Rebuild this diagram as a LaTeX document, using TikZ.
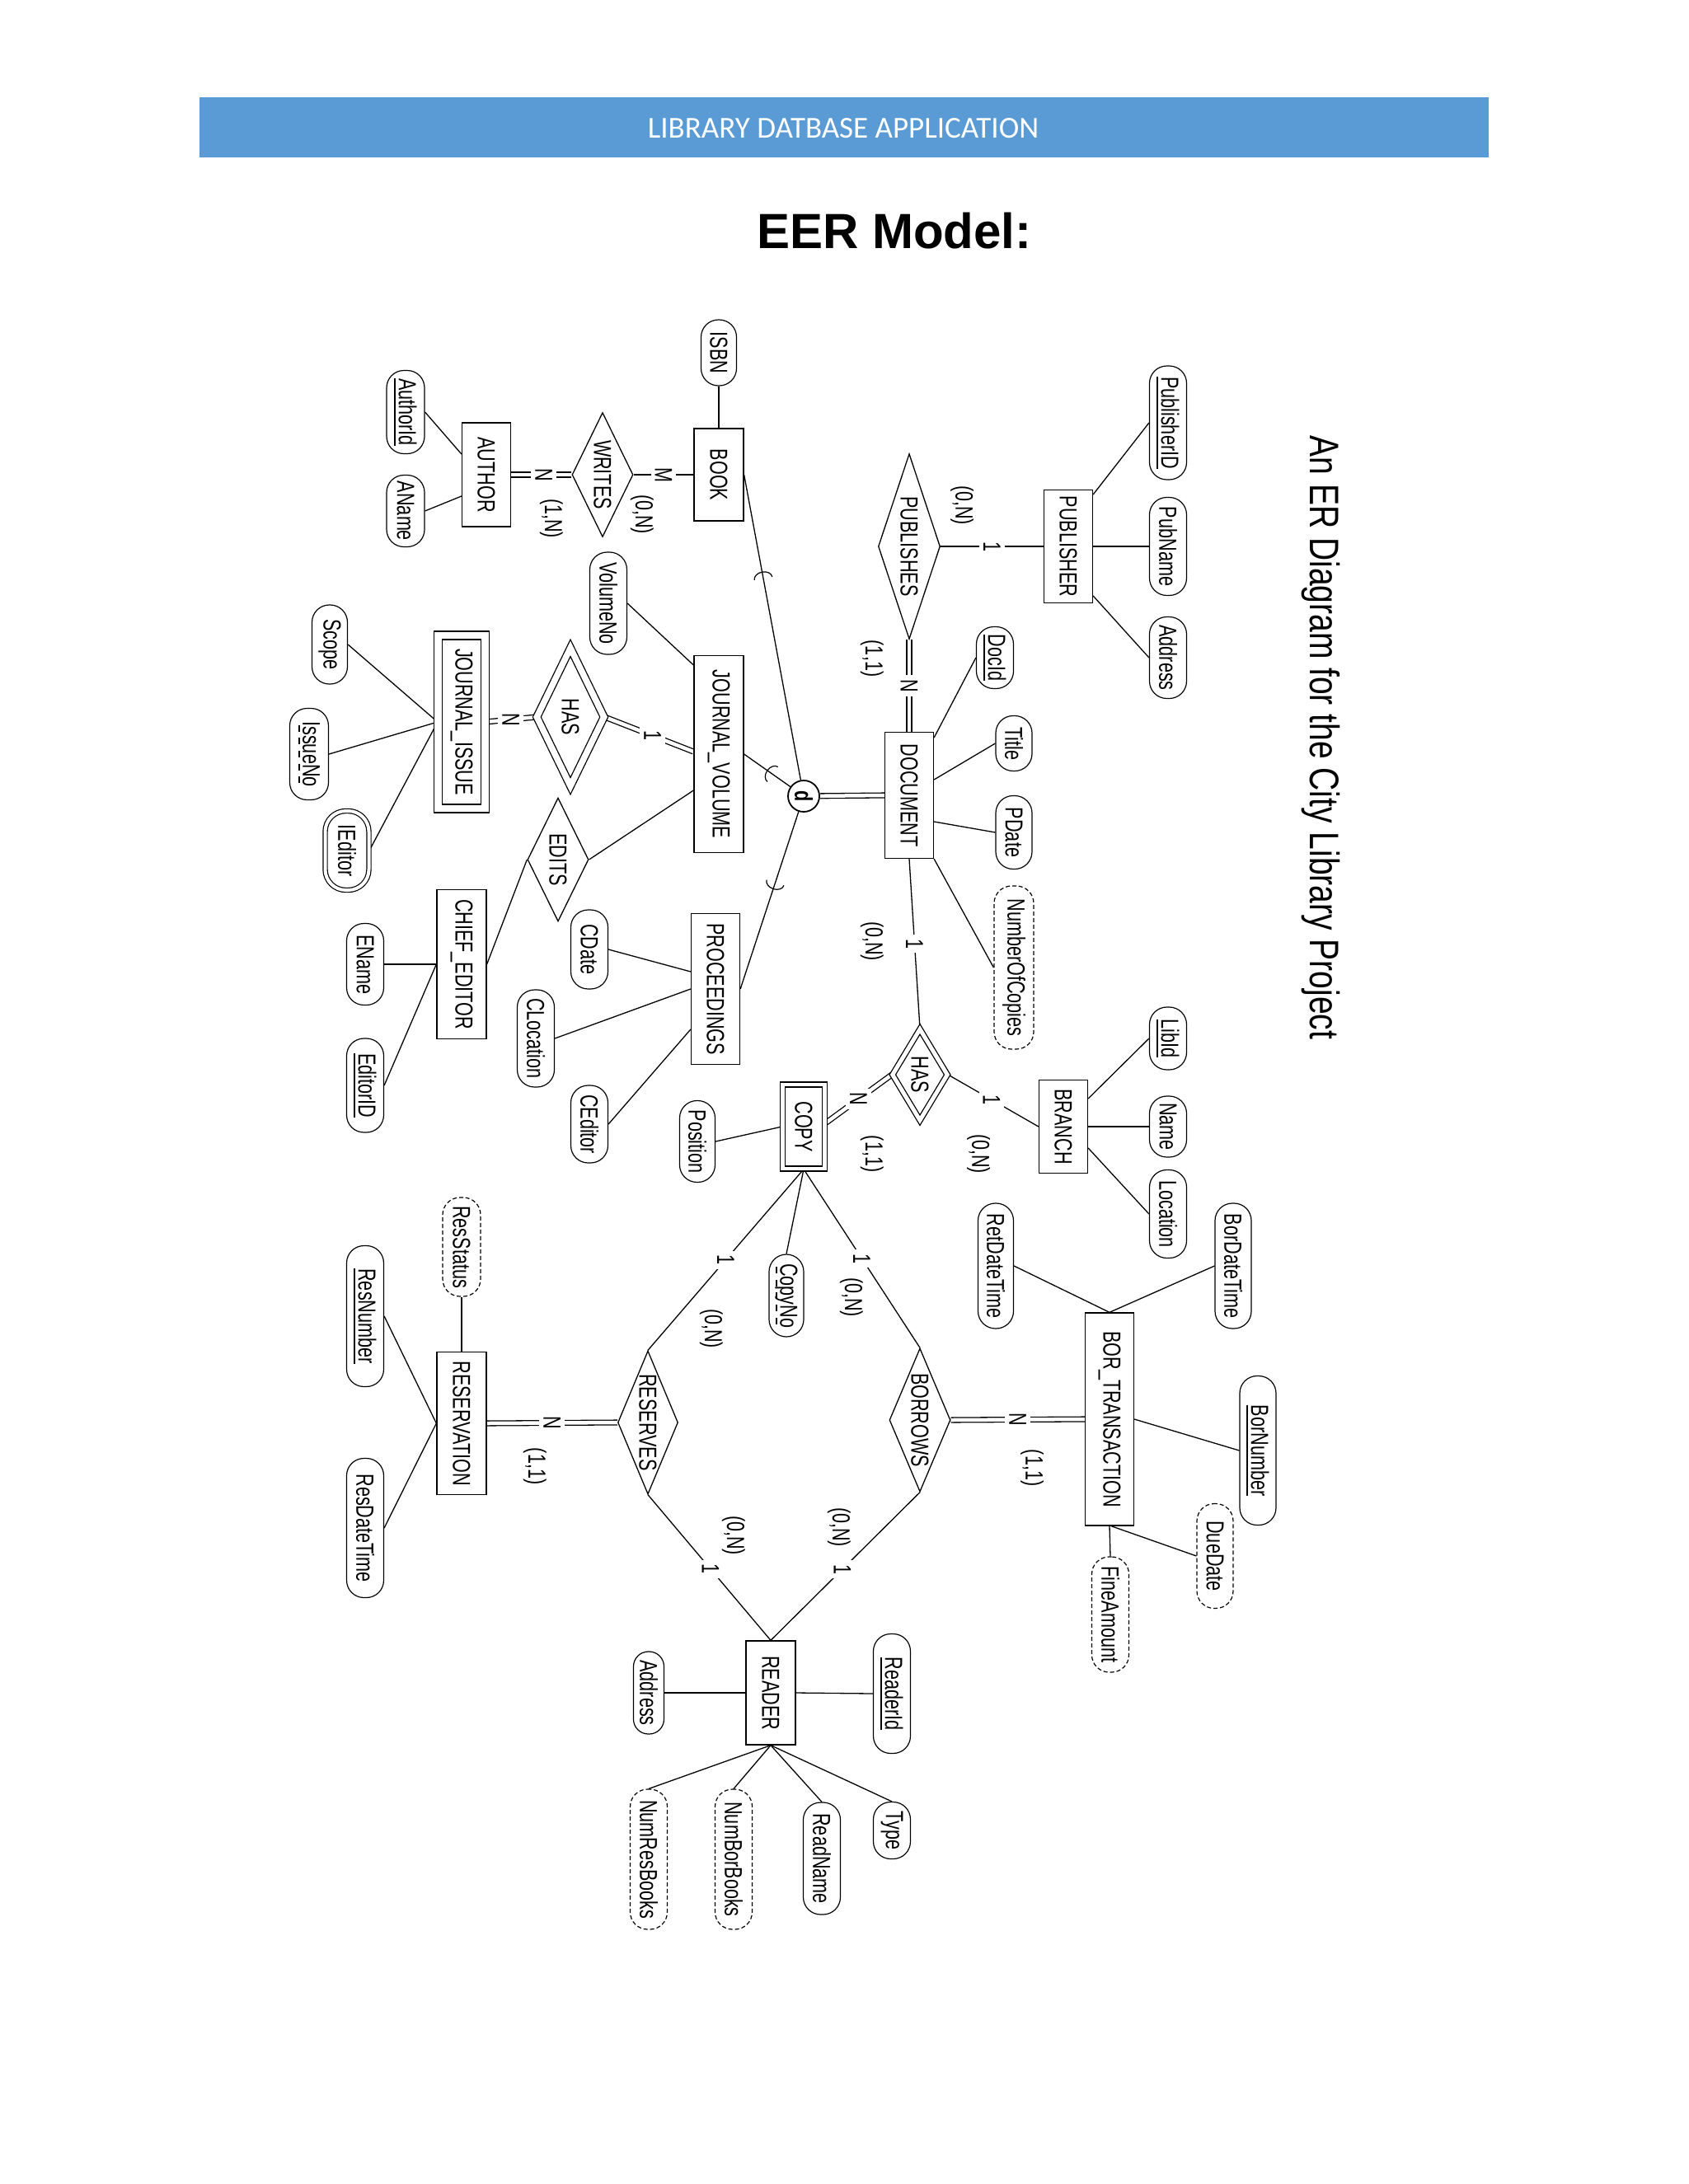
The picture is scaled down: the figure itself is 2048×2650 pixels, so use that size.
\documentclass[tikz,border=0pt]{standalone}
\usepackage{fontspec}
\usepackage{graphicx}
\setmainfont{Liberation Sans}
\newfontfamily\erfont[FakeStretch=0.72]{Liberation Sans}
\newfontfamily\titlefont[FakeStretch=0.78]{Liberation Sans}
\newfontfamily\hdrfont{Carlito}
\usetikzlibrary{shapes.geometric,backgrounds,decorations.markings}
\definecolor{hdrblue}{RGB}{91,155,213}
\newsavebox\dulbox
\newcommand\rtx[1]{\rotatebox{-90}{#1}}
\newcommand\sul[1]{\sbox\dulbox{#1}\rlap{\lower5.5pt\hbox{\vrule width\wd\dulbox height 1.8pt depth 0pt}}\usebox\dulbox}
\newcommand\dashul[1]{\sbox\dulbox{#1}\rlap{\lower5.5pt\hbox to\wd\dulbox{\xleaders\hbox to 14pt{\hss\vrule width 8pt height 1.8pt depth 0pt\hss}\hfill}}\usebox\dulbox}
\tikzset{
  erbase/.style={font=\erfont\fontsize{30}{30}\selectfont, inner sep=0pt},
  ent/.style={erbase, draw, fill=white, line width=1.3pt, rectangle},
  wkent/.style={ent, double, double distance=#1},
  wkent/.default=5pt,
  rel/.style={erbase, draw, fill=white, line width=1.3pt, diamond},
  wkrel/.style={rel, double, double distance=#1},
  wkrel/.default=5pt,
  attr/.style={erbase, draw, fill=white, line width=1.2pt, rounded corners=21pt},
  derived/.style={attr, dash pattern=on 5pt off 3pt},
  multi/.style={attr, double, double distance=4pt, rounded corners=25pt},
  lbl/.style={erbase, fill=white, inner sep=5pt},
  card/.style={erbase},
  conn/.style={line width=1.3pt},
  tot/.style={line width=1.3pt, double, double distance=4.5pt},
  subset/.style={postaction={decorate, decoration={markings, mark=at position #1 with {\draw[line width=1.2pt] (0,11) arc[start angle=90, end angle=270, x radius=8, y radius=11];}}}}
}
\begin{document}
\begin{tikzpicture}[x=1pt,y=-1pt]
\useasboundingbox (0,0) rectangle (2048,2650);
% header
\fill[hdrblue] (242,118) rectangle (1806,191);
\node[font=\hdrfont\fontsize{37}{37}\selectfont, text=white, inner sep=0pt] (hdr) at (1023,156) {LIBRARY DATBASE APPLICATION};
\node[font=\bfseries\fontsize{60}{60}\selectfont, inner sep=0pt] (eer) at (1085,280) {EER Model:};
\node[font=\titlefont\fontsize{50}{50}\selectfont, inner sep=0pt] (ttl) at (1602,895) {\rtx{An ER Diagram for the City Library Project}};

% entities
\node[ent, minimum width=60pt, minimum height=112pt] (book) at (872,576) {\rtx{BOOK}};
\node[ent, minimum width=59pt, minimum height=126pt] (author) at (590,576) {\rtx{AUTHOR}};
\node[ent, minimum width=59pt, minimum height=137pt] (pub) at (1296,663) {\rtx{PUBLISHER}};
\node[ent, minimum width=59pt, minimum height=153pt] (doc) at (1103,965) {\rtx{DOCUMENT}};
\node[ent, minimum width=60pt, minimum height=239pt] (jv) at (872,915) {\rtx{JOURNAL\_VOLUME}};
\node[wkent=8.5pt, minimum width=57pt, minimum height=210pt] (ji) at (560,876) {\rtx{JOURNAL\_ISSUE}};
\node[ent, minimum width=60pt, minimum height=181pt] (ce) at (560,1170) {\rtx{CHIEF\_EDITOR}};
\node[ent, minimum width=59pt, minimum height=183pt] (proc) at (868,1200) {\rtx{PROCEEDINGS}};
\node[wkent=4.7pt, minimum width=51pt, minimum height=102pt] (copy) at (975,1367) {\rtx{COPY}};
\node[ent, minimum width=59pt, minimum height=113pt] (branch) at (1290,1367) {\rtx{BRANCH}};
\node[ent, minimum width=59pt, minimum height=258pt] (bt) at (1346,1722) {\rtx{BOR\_TRANSACTION}};
\node[ent, minimum width=60pt, minimum height=173pt] (resv) at (560,1727) {\rtx{RESERVATION}};
\node[ent, minimum width=60pt, minimum height=126pt] (reader) at (935,2054) {\rtx{READER}};

% relationships
\node[rel, aspect=0.49, minimum width=74pt, minimum height=151pt] (writes) at (731,576) {\rtx{WRITES}};
\node[rel, aspect=0.333, minimum width=75pt, minimum height=225pt] (publishes) at (1103,663) {\rtx{PUBLISHES}};
\node[wkrel=7.5pt, aspect=0.49, minimum width=82pt, minimum height=168pt] (has1) at (692,870) {\rtx{HAS}};
\node[rel, aspect=0.49, minimum width=74pt, minimum height=150pt] (edits) at (677,1043) {\rtx{EDITS}};
\node[wkrel=5pt, aspect=0.6, minimum width=67pt, minimum height=111pt] (has2) at (1116,1304) {\rtx{HAS}};
\node[rel, aspect=0.42, minimum width=73pt, minimum height=174pt] (reserves) at (786,1726) {\rtx{RESERVES}};
\node[rel, aspect=0.425, minimum width=74pt, minimum height=174pt] (borrows) at (1116,1723) {\rtx{BORROWS}};

% specialization circle
\node[circle, draw, fill=white, line width=1.8pt, minimum size=38pt, inner sep=0pt, font=\erfont\bfseries\fontsize{30}{30}\selectfont] (dd) at (975,966) {\rtx{d}};

% attributes
\node[attr, minimum width=43pt, minimum height=80pt] (isbn) at (872,428) {\rtx{ISBN}};
\node[attr, minimum width=46pt, minimum height=101pt] (authorid) at (492,500) {\rtx{\sul{AuthorId}}};
\node[attr, minimum width=46pt, minimum height=87pt] (aname) at (492,620) {\rtx{AName}};
\node[attr, minimum width=45pt, minimum height=138pt] (pubid) at (1417,513) {\rtx{\sul{PublisherID}}};
\node[attr, minimum width=45pt, minimum height=119pt] (pubname) at (1417,663) {\rtx{PubName}};
\node[attr, minimum width=45pt, minimum height=99pt] (pubaddr) at (1417,798) {\rtx{Address}};
\node[attr, minimum width=45pt, minimum height=75pt] (docid) at (1207,798) {\rtx{\sul{DocId}}};
\node[attr, minimum width=44pt, minimum height=67pt] (title) at (1230,902) {\rtx{Title}};
\node[attr, minimum width=44pt, minimum height=89pt] (pdate) at (1230,1010) {\rtx{PDate}};
\node[derived, minimum width=48pt, minimum height=198pt] (noc) at (1230,1174) {\rtx{NumberOfCopies}};
\node[attr, minimum width=45pt, minimum height=124pt] (volno) at (738,732) {\rtx{VolumeNo}};
\node[attr, minimum width=43pt, minimum height=96pt] (scope) at (400,782) {\rtx{Scope}};
\node[attr, minimum width=47pt, minimum height=111pt] (issueno) at (375,915) {\rtx{\dashul{IssueNo}}};
\node[multi, minimum width=53pt, minimum height=96pt] (ieditor) at (421,1032) {\rtx{IEditor}};
\node[attr, minimum width=45pt, minimum height=99pt] (ename) at (443,1170) {\rtx{EName}};
\node[attr, minimum width=45pt, minimum height=114pt] (editorid) at (443,1317) {\rtx{\sul{EditorID}}};
\node[attr, minimum width=45pt, minimum height=96pt] (cdate) at (715,1152) {\rtx{CDate}};
\node[attr, minimum width=45pt, minimum height=118pt] (cloc) at (650,1260) {\rtx{CLocation}};
\node[attr, minimum width=45pt, minimum height=94pt] (ceditor) at (715,1364) {\rtx{CEditor}};
\node[attr, minimum width=43pt, minimum height=99pt] (position) at (846,1385) {\rtx{Position}};
\node[attr, minimum width=42pt, minimum height=100pt] (copyno) at (954,1572) {\rtx{\dashul{CopyNo}}};
\node[attr, minimum width=45pt, minimum height=76pt] (libid) at (1417,1260) {\rtx{\sul{LibId}}};
\node[attr, minimum width=45pt, minimum height=74pt] (bname) at (1417,1367) {\rtx{Name}};
\node[attr, minimum width=45pt, minimum height=107pt] (bloc) at (1417,1473) {\rtx{Location}};
\node[attr, minimum width=43pt, minimum height=152pt] (retdt) at (1208,1536) {\rtx{RetDateTime}};
\node[attr, minimum width=44pt, minimum height=152pt] (bordt) at (1496,1536) {\rtx{BorDateTime}};
\node[attr, minimum width=44pt, minimum height=181pt] (bornum) at (1526,1760) {\rtx{\sul{BorNumber}}};
\node[derived, minimum width=44pt, minimum height=127pt] (duedate) at (1474,1888) {\rtx{DueDate}};
\node[derived, minimum width=45pt, minimum height=140pt] (fine) at (1347,1959) {\rtx{FineAmount}};
\node[derived, minimum width=46pt, minimum height=120pt] (resstatus) at (560,1513) {\rtx{ResStatus}};
\node[attr, minimum width=45pt, minimum height=171pt] (resnum) at (443,1597) {\rtx{\sul{ResNumber}}};
\node[attr, minimum width=45pt, minimum height=169pt] (resdt) at (443,1854) {\rtx{ResDateTime}};
\node[attr, minimum width=37pt, minimum height=100pt, rounded corners=18pt] (raddr) at (787,2054) {\rtx{Address}};
\node[attr, minimum width=45pt, minimum height=145pt] (readerid) at (1082,2055) {\rtx{\sul{ReaderId}}};
\node[derived, minimum width=45pt, minimum height=170pt] (numres) at (787,2256) {\rtx{NumResBooks}};
\node[derived, minimum width=45pt, minimum height=170pt] (numbor) at (890,2256) {\rtx{NumBorBooks}};
\node[attr, minimum width=45pt, minimum height=136pt] (readname) at (997,2255) {\rtx{ReadName}};
\node[attr, minimum width=45pt, minimum height=69pt] (type) at (1082,2221) {\rtx{Type}};

% cardinality texts
\node[card] (c1) at (669,629) {\rtx{(1,N)}};
\node[card] (c2) at (779,624) {\rtx{(0,N)}};
\node[card] (c3) at (1167,613) {\rtx{(0,N)}};
\node[card] (c4) at (1058,799) {\rtx{(1,1)}};
\node[card] (c5) at (1058,1142) {\rtx{(0,N)}};
\node[card] (c6) at (1187,1400) {\rtx{(0,N)}};
\node[card] (c7) at (1058,1400) {\rtx{(1,1)}};
\node[card] (c8) at (863,1612) {\rtx{(0,N)}};
\node[card] (c9) at (1033,1574) {\rtx{(0,N)}};
\node[card] (c10) at (649,1779) {\rtx{(1,1)}};
\node[card] (c11) at (1252,1781) {\rtx{(1,1)}};
\node[card] (c12) at (890,1863) {\rtx{(0,N)}};
\node[card] (c13) at (1018,1853) {\rtx{(0,N)}};

\begin{pgfonlayer}{background}
\fill[white] (0,0) rectangle (2048,2650);
\draw[conn] (isbn) -- (book);
\draw[conn] (book.west) -- node[lbl] (l1) {\rtx{M}} (writes.east);
\draw[tot] (author.east) -- node[lbl, pos=0.54] (l2) {\rtx{N}} (writes.west);
\draw[conn] (authorid.east) -- ([yshift=25pt]author.west);
\draw[conn] (aname.east) -- ([yshift=-26pt]author.west);
\draw[conn] ([yshift=63pt]pub.east) -- (pubid.west);
\draw[conn] (pub.east) -- (pubname.west);
\draw[conn] ([yshift=-60pt]pub.east) -- (pubaddr.west);
\draw[conn] (pub.west) -- node[lbl] (l3) {\rtx{1}} (publishes.east);
\draw[tot] (publishes.south) -- node[lbl] (l4) {\rtx{N}} (doc.north);
\draw[conn] ([yshift=70pt]doc.east) -- (docid.west);
\draw[conn] ([yshift=19pt]doc.east) -- (title.west);
\draw[conn] ([yshift=-32pt]doc.east) -- (pdate.west);
\draw[conn] (doc.south east) -- (noc.west);
\draw[tot] (dd) -- (doc.west);
\draw[conn, subset=0.34] (book.east) -- (dd);
\draw[conn, subset=0.62] (jv.east) -- (dd);
\draw[conn, subset=0.60] (proc.east) -- (dd);
\draw[conn] (volno.east) -- ([yshift=108pt]jv.west);
\draw[tot] ([yshift=3pt]jv.west) -- node[lbl, pos=0.46] (l5) {\rtx{1}} (has1.east);
\draw[tot] (ji.east) -- node[lbl] (l6) {\rtx{N}} (has1.west);
\draw[conn] (scope.east) -- (ji.west);
\draw[conn] (issueno.east) -- (ji.west);
\draw[conn] (ieditor.east) -- (ji.west);
\draw[conn] ([yshift=-44pt]jv.west) -- (edits.east);
\draw[conn] (edits.west) -- (ce.east);
\draw[conn] (ename.east) -- (ce.west);
\draw[conn] (editorid.east) -- (ce.west);
\draw[conn] (cdate.east) -- ([yshift=21pt]proc.west);
\draw[conn] (cloc.east) -- (proc.west);
\draw[conn] (ceditor.east) -- ([yshift=-49pt]proc.west);
\draw[conn] (position.east) -- (copy.west);
\draw[conn] (doc.south) -- node[lbl] (l7) {\rtx{1}} (has2.north);
\draw[tot] ([yshift=4pt]copy.east) -- node[lbl] (l8) {\rtx{N}} (has2.west);
\draw[conn] (has2.east) -- node[lbl, pos=0.48] (l9) {\rtx{1}} (branch.west);
\draw[conn] ([yshift=34pt]branch.east) -- (libid.west);
\draw[conn] (branch.east) -- (bname.west);
\draw[conn] ([yshift=-26pt]branch.east) -- (bloc.west);
\draw[conn] (copy.south) -- (copyno.north);
\draw[conn] (copy.south) -- node[lbl] (l10) {\rtx{1}} (reserves.north);
\draw[conn] (copy.south) -- node[lbl] (l11) {\rtx{1}} (borrows.north);
\draw[conn] (retdt.east) -- (bt.north);
\draw[conn] (bordt.west) -- (bt.north);
\draw[conn] (bt.east) -- (bornum.west);
\draw[conn] ([xshift=2pt]bt.south) -- (duedate.west);
\draw[conn] (bt.south) -- (fine.north);
\draw[tot] (borrows.east) -- node[lbl] (l12) {\rtx{N}} (bt.west);
\draw[conn] (resstatus) -- (resv);
\draw[conn] (resnum.east) -- (resv.west);
\draw[conn] (resdt.east) -- (resv.west);
\draw[tot] (resv.east) -- node[lbl] (l13) {\rtx{N}} (reserves.west);
\draw[conn] (reserves.south) -- node[lbl, pos=0.51] (l14) {\rtx{1}} (reader.north);
\draw[conn] (borrows.south) -- node[lbl, pos=0.52] (l15) {\rtx{1}} (reader.north);
\draw[conn] (raddr.east) -- (reader.west);
\draw[conn] (reader.east) -- (readerid.west);
\draw[conn] (reader.south) -- (numres.north);
\draw[conn] (reader.south) -- (numbor.north);
\draw[conn] (reader.south) -- (readname.north);
\draw[conn] (reader.south) -- (type.north);
\end{pgfonlayer}
\end{tikzpicture}
\end{document}
